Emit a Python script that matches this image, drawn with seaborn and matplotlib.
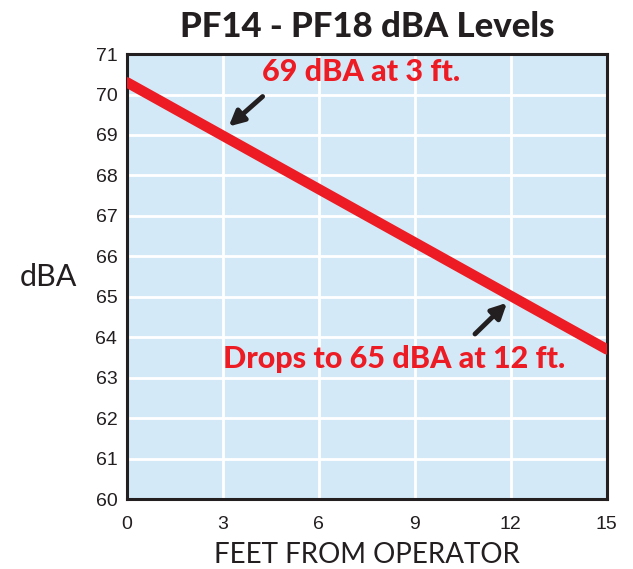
import matplotlib
matplotlib.use('Agg')
import matplotlib.pyplot as plt
import numpy as np
import pandas as pd
import seaborn as sns

# Values
feet = [0, 3, 6, 9, 12, 15]
dba = [70.3, 68.98, 67.66, 66.34, 65.02, 63.7]
x_ticks = [0, 3, 6, 9, 12, 15]
y_ticks = list(range(60, 72))

callouts = ['69 dBA at 3 ft.', 'Drops to 65 dBA at 12 ft.']
callout_pos = [(7.33, 70.55), (8.36, 63.45)]
arrow_tail = [(4.24, 69.95), (10.88, 64.08)]
arrow_head = [(3.18, 69.21), (11.88, 64.85)]

df = pd.DataFrame({'Feet': feet, 'dBA': dba})

sns.set_style('white')
plt.rcParams['font.family'] = ['Lato', 'DejaVu Sans']

fig = plt.figure(figsize=(6.33, 5.69), dpi=100)
ax = fig.add_axes([0.2006, 0.123, 0.758, 0.782])
ax.set_facecolor('#d3e9f7')

sns.lineplot(x='Feet', y='dBA', data=df, ax=ax, color='#ed1c24', linewidth=7.5, zorder=3)

ax.set_xlim(0, 15)
ax.set_ylim(60, 71)
ax.set_xticks(x_ticks)
ax.set_yticks(y_ticks)
ax.grid(True, color='white', linewidth=2)
ax.set_axisbelow(True)
ax.tick_params(length=0, labelsize=14, labelcolor='#231f20')
ax.tick_params(axis='x', pad=12)
ax.tick_params(axis='y', pad=7)
for lbl in ax.get_xticklabels() + ax.get_yticklabels():
    lbl.set_family(['Liberation Sans', 'DejaVu Sans'])
for sp in ax.spines.values():
    sp.set_color('#231f20')
    sp.set_linewidth(2.2)

ax.set_xlabel('FEET FROM OPERATOR', fontsize=20, color='#231f20', labelpad=7)
ax.set_ylabel('dBA', fontsize=22, color='#231f20', rotation=0, labelpad=34, va='center')
ax.set_title('PF14 - PF18 dBA Levels', fontsize=25, fontweight='black', color='#231f20', pad=12)

for txt, pos in zip(callouts, callout_pos):
    ax.text(pos[0], pos[1], txt, color='#ed1c24', fontsize=22, fontweight='black',
            ha='center', va='center', zorder=5)
for tail, head in zip(arrow_tail, arrow_head):
    ax.annotate('', xy=head, xytext=tail,
                arrowprops=dict(arrowstyle='-|>,head_length=0.9,head_width=0.45',
                                color='#231f20', lw=3.5, shrinkA=0, shrinkB=0), zorder=5)

plt.savefig('out.png', dpi=100)
